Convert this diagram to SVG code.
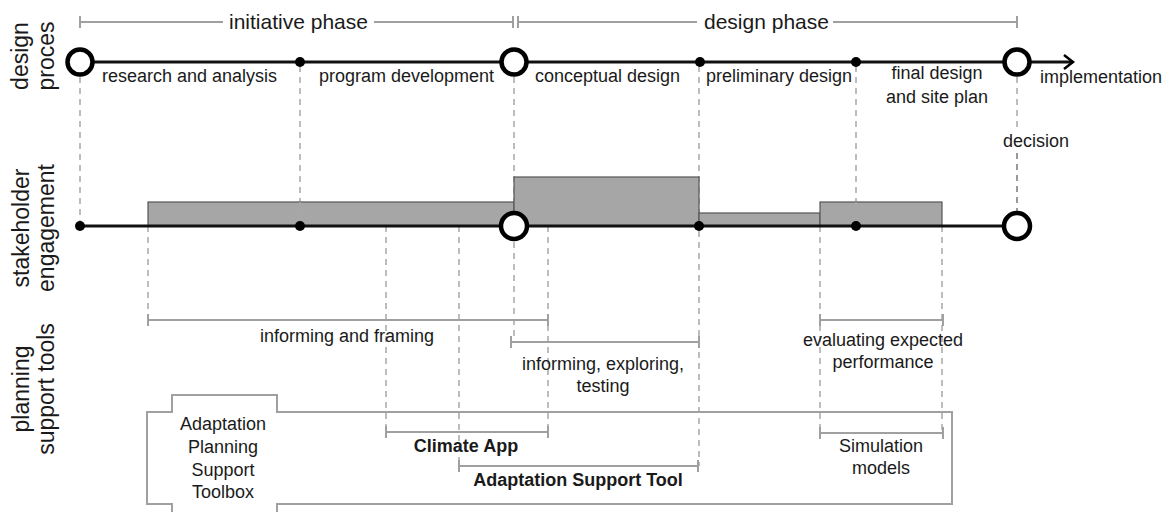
<svg xmlns="http://www.w3.org/2000/svg" width="1166" height="512" viewBox="0 0 1166 512">
<style>
text{font-family:"Liberation Sans",Arial,sans-serif;fill:#1a1a1a;font-size:18px}
.ph{font-size:21px}
.side{font-size:23px}
.b{font-weight:bold}
.m{text-anchor:middle}
.gl{stroke:#a0a0a0;stroke-width:2;fill:none}
.dash{stroke:#a8a8a8;stroke-width:1.5;stroke-dasharray:6 5;fill:none}
.main{stroke:#111;stroke-width:3;fill:none}
.bar{fill:#a6a6a6;stroke:#555;stroke-width:1.2}
.big{fill:#fff;stroke:#000;stroke-width:4.5}
.dot{fill:#000}
</style>

<g id="side-labels">
<text class="side m" transform="translate(28,56) rotate(-90)">design</text>
<text class="side m" transform="translate(54,56) rotate(-90)">proces</text>
<text class="side m" transform="translate(29,228) rotate(-90)">stakeholder</text>
<text class="side m" transform="translate(54,228) rotate(-90)">engagement</text>
<text class="side m" transform="translate(29,389) rotate(-90)">planning</text>
<text class="side m" transform="translate(54,389) rotate(-90)">support tools</text>
</g>

<g id="phases">
<path class="gl" d="M80,16V28M80,22H223M374,22H513M513,16V28M518,16V28M518,22H697M833,22H1017M1017,16V28"/>
<text class="ph" x="229" y="29">initiative phase</text>
<text class="ph" x="704" y="29">design phase</text>
</g>

<g id="connectors">
<path class="dash" d="M80,77V222M300,66V222M514,77V342M699,66V466M856,66V222M1017,77V130"/>
<path d="M1017,153V211" stroke="#999" stroke-width="2" stroke-dasharray="6 5" fill="none"/>
<path class="dash" d="M148,226V320M386,226V432M459,226V466M548,226V432M820,226V432M942,226V432"/>
</g>

<g id="engagement-bars">
<rect class="bar" x="148" y="202" width="366" height="24"/>
<rect class="bar" x="514" y="177" width="185" height="49"/>
<rect class="bar" x="699" y="213" width="121" height="13"/>
<rect class="bar" x="820" y="202" width="122" height="24"/>
<path class="dash" d="M300,202V222M856,202V222"/>
</g>

<g id="design-process-line">
<path class="main" d="M80,62H1073"/>
<path d="M1064,55L1073,62L1064,69" stroke="#000" stroke-width="2.5" fill="none"/>
<circle class="big" cx="80" cy="62" r="12.5"/>
<circle class="dot" cx="300" cy="62" r="5"/>
<circle class="big" cx="514" cy="62" r="12.5"/>
<circle class="dot" cx="700" cy="62" r="5"/>
<circle class="dot" cx="856" cy="62" r="5"/>
<circle class="big" cx="1017" cy="62" r="12.5"/>
</g>

<g id="design-stages">
<text x="102" y="82">research and analysis</text>
<text x="319" y="82">program development</text>
<text x="535" y="82">conceptual design</text>
<text x="706" y="82">preliminary design</text>
<text class="m" x="937" y="79">final design</text>
<text class="m" x="937" y="103">and site plan</text>
<text x="1040" y="83">implementation</text>
<text x="1003" y="147">decision</text>
</g>

<g id="stakeholder-line">
<path class="main" d="M80,226H1004"/>
<circle class="dot" cx="80" cy="226" r="5"/>
<circle class="dot" cx="300" cy="226" r="5"/>
<circle class="big" cx="514" cy="226" r="13"/>
<circle class="dot" cx="699" cy="226" r="5"/>
<circle class="dot" cx="856" cy="226" r="5"/>
<circle class="big" cx="1017" cy="226" r="13"/>
</g>

<g id="tool-purposes">
<path class="gl" d="M148,314V326M148,320H548M548,314V326"/>
<text class="m" x="347" y="342">informing and framing</text>
<path class="gl" d="M511,336V348M511,342H699M699,336V348"/>
<text class="m" x="603" y="370">informing, exploring,</text>
<text class="m" x="603" y="392">testing</text>
<path class="gl" d="M820,314V326M820,320H943M943,314V326"/>
<text class="m" x="883" y="346">evaluating expected</text>
<text class="m" x="883" y="368">performance</text>
</g>

<g id="toolbox">
<path class="gl" d="M172,512V504H147V412H172V395H277V412H952V504H277V512"/>
<text class="m" x="223" y="430">Adaptation</text>
<text class="m" x="223" y="453">Planning</text>
<text class="m" x="223" y="476">Support</text>
<text class="m" x="223" y="498">Toolbox</text>
</g>

<g id="tools">
<path class="gl" d="M386,426V438M386,432H548M548,426V438"/>
<text class="b m" x="466" y="452">Climate App</text>
<path class="gl" d="M459,460V472M459,466H698M698,460V472"/>
<text class="b m" x="578" y="486">Adaptation Support Tool</text>
<path class="gl" d="M820,427V439M820,433H943M943,427V439"/>
<text class="m" x="881" y="452">Simulation</text>
<text class="m" x="881" y="474">models</text>
</g>
</svg>
